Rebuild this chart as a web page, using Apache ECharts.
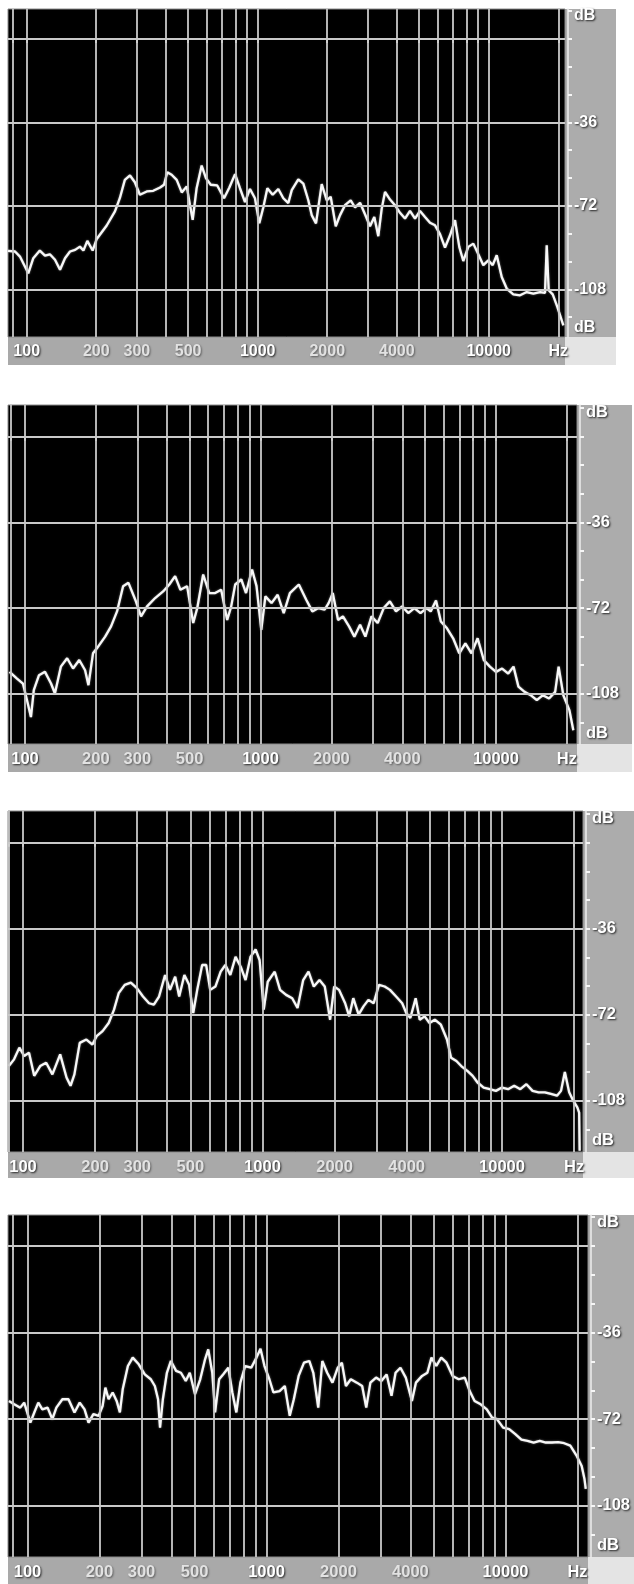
<!DOCTYPE html>
<html>
<head>
<meta charset="utf-8">
<title>Spectra</title>
<script src="https://cdn.jsdelivr.net/npm/echarts@6/dist/echarts.min.js"></script>
<style>
  html, body { margin: 0; padding: 0; background: #fff; }
  #chart { width: 634px; height: 1584px; }
</style>
</head>
<body>
<div id="chart"></div>
<script>
// Frequency (Hz) / level (dB) pairs for the four spectra, top to bottom.
const spectrumA = [
  [83, -91.4], [89, -91.7], [93.5, -93.9], [101.6, -101.1], [106.8, -94.6], [114, -91.3], [120, -93.5],
  [126, -92.9], [132.6, -95.3], [139.4, -99.6], [146.5, -94.6], [154, -91.7], [162, -91], [170, -89.6],
  [176, -91.3], [183, -87.1], [193, -91.3], [201, -86.3], [222, -80.5], [241, -74.4], [253, -68.7],
  [266, -60.8], [280, -58.9], [294, -61.8], [309, -67.2], [331, -65.8], [353, -65.5], [378, -64.1],
  [393, -62.9], [406, -57.5], [424, -58.6], [446, -60.8], [469, -66.2], [493, -63.6], [509, -71.6],
  [523, -78], [544, -64.4], [572, -54.6], [597, -60], [626, -62.9], [668, -63.2], [715, -68.7],
  [754, -64.1], [798, -58.3], [838, -64.4], [881, -70.4], [926, -64.7], [973, -68.7], [1016, -79.5],
  [1057, -72.7], [1101, -64.4], [1161, -67.2], [1228, -64.7], [1291, -68.7], [1357, -70.8], [1404, -65.2],
  [1499, -60.6], [1576, -62.4], [1656, -69.6], [1713, -76], [1788, -79.6], [1893, -62.6], [1989, -69.6],
  [2070, -68.1], [2177, -80.8], [2272, -76], [2387, -71.7], [2527, -69.6], [2638, -72.7], [2773, -70.7],
  [2914, -75.6], [3063, -80.8], [3197, -76.8], [3327, -85.1], [3442, -73.2], [3557, -66], [3739, -69.3],
  [3929, -71.7], [4130, -75], [4341, -77.5], [4563, -74.2], [4797, -77.5], [5042, -74.2], [5300, -76.8],
  [5570, -79.3], [5855, -80.4], [6154, -84.2], [6469, -90], [6800, -84.7], [7147, -78.2], [7458, -89.7],
  [7762, -95.8], [8159, -89.7], [8577, -88.3], [9016, -92.9], [9476, -97.6], [9961, -95.5], [10406, -97.6],
  [10830, -93.3], [11385, -102.7], [11965, -107.7], [12778, -110.2], [13663, -110.6], [14605, -109.2],
  [15603, -109.9], [16681, -109.2], [17526, -109.6], [17827, -89], [18184, -108.4], [18928, -110.2],
  [19815, -115.6], [21040, -123.6]
];

const spectrumB = [
  [86, -98.8], [92.5, -101.6], [98, -103.7], [102, -110.7], [106, -117.8], [109, -106.5], [114.7, -100.2],
  [121.6, -98.8], [129, -103.7], [134, -107.9], [142, -96.6], [151, -93.1], [160, -97.4], [170, -93.8],
  [180, -98.1], [186, -104.4], [194.5, -91], [202, -88.9], [219, -84], [232, -79.7], [246, -73.4],
  [261, -62.8], [275, -61.4], [294, -68.5], [311, -75.5], [330, -71.3], [357, -67.8], [386, -65],
  [410, -62.1], [434, -58.6], [457, -64.3], [488, -62.8], [518, -78.3], [539, -72], [571, -57.9],
  [606, -65.7], [642, -65.7], [681, -64.3], [722, -77], [751, -71.3], [781, -62.1], [829, -60],
  [868, -65.7], [921, -55.8], [962, -62.8], [1008, -81.2], [1049, -67.1], [1114, -69.9], [1183, -66.4],
  [1255, -74.1], [1333, -65.7], [1455, -62.1], [1564, -68.5], [1660, -73.4], [1763, -72], [1871, -72.7],
  [1947, -69.9], [2027, -65.7], [2135, -77], [2239, -75.5], [2377, -79.7], [2504, -84], [2648, -79],
  [2789, -84], [2961, -75.5], [3144, -78.3], [3337, -72], [3543, -69.2], [3762, -73.4], [3994, -71.3],
  [4240, -74.1], [4502, -72], [4780, -74.1], [5075, -72], [5281, -73.4], [5563, -68.8], [5834, -77.6],
  [6194, -80.5], [6577, -84.7], [6982, -91], [7413, -86.8], [7870, -91], [8356, -84.7], [8872, -93.8],
  [9419, -96.6], [10000, -98.8], [10617, -97.4], [11272, -99.5], [11870, -96.6], [12454, -105],
  [13222, -107.2], [14038, -108.6], [14904, -110.7], [15823, -108.6], [16799, -110], [17835, -107.2],
  [18450, -96.6], [19320, -108.6], [20512, -115], [21300, -123.3]
];

const spectrumC = [
  [87.3, -93.5], [91.8, -90.7], [96.6, -85.8], [101.2, -89.3], [106, -87.9], [111.4, -97.6], [118, -93.5],
  [125, -92.1], [132.7, -97], [143, -88.6], [152, -98.3], [158, -101.8], [164, -97], [172.6, -83.8],
  [184, -82.4], [195, -84.5], [203, -81], [215, -78.9], [228, -75.5], [240, -69.9], [251, -63],
  [266, -59.5], [282, -58.6], [299, -60.9], [317, -64.4], [336, -67.2], [352, -67.8], [370, -64.4],
  [392, -55.4], [411, -61.6], [432, -56.1], [449, -64.4], [472, -55.4], [494, -59.5], [514, -71.3],
  [534, -61.6], [560, -51.2], [582, -51.2], [605, -61.6], [636, -60.2], [669, -54], [700, -51.2],
  [734, -55.4], [772, -47.8], [811, -51.9], [850, -57.5], [891, -47.8], [936, -44.7], [973, -49.2],
  [1012, -69.9], [1052, -58.2], [1125, -54], [1184, -61.6], [1255, -63.7], [1331, -65.1], [1401, -69.2],
  [1479, -57.5], [1557, -54], [1638, -60.2], [1730, -57.5], [1820, -60.2], [1916, -74.1], [1992, -60.2],
  [2088, -61.6], [2214, -67.2], [2302, -72.7], [2394, -65.1], [2520, -72], [2641, -68.5], [2769, -65.8],
  [2913, -67.2], [3064, -59.5], [3237, -60.2], [3406, -61.6], [3614, -64.4], [3831, -67.2], [3984, -71.3],
  [4143, -73.4], [4361, -65.1], [4535, -74.1], [4753, -72.7], [4981, -75.5], [5242, -74.1], [5558, -76.2],
  [5893, -82.4], [6129, -90], [6451, -91.4], [6759, -93.5], [7167, -95.5], [7544, -97.6], [7907, -100.4],
  [8384, -102.5], [8892, -103.2], [9430, -103.9], [10000, -102.5], [10605, -103.2], [11247, -101.8],
  [11927, -103.2], [12648, -101.1], [13416, -103.9], [14227, -104.5], [15088, -104.5], [16000, -105.2],
  [16968, -105.9], [17640, -103.9], [18300, -96], [19077, -104.5], [19838, -108], [20630, -110.8],
  [21000, -113], [21100, -129]
];

const spectrumD = [
  [83.7, -64.4], [88, -65.8], [93.3, -67.2], [96.9, -65.1], [102.8, -73.4], [106.8, -69.2], [111, -65.1],
  [115.4, -67.9], [121.4, -67.2], [127.1, -72], [132.1, -67.2], [140, -63.7], [148.4, -63.7], [157.3, -69.2],
  [165.4, -65.1], [173.3, -67.9], [180.1, -73.4], [188.7, -69.9], [198.4, -70.6], [206.2, -66.5],
  [211.8, -58.9], [218.5, -63.7], [227.2, -60.9], [236.1, -64.4], [243.6, -69.2], [250.3, -59.6],
  [263.1, -49.9], [275.6, -46.4], [292.1, -49.2], [309.6, -53.4], [328.1, -55.4], [341.1, -58.2],
  [351.8, -63.7], [358.6, -75.5], [368.5, -63.7], [383.1, -52.7], [398.1, -47.8], [418.6, -51.9],
  [438.5, -52.7], [459.4, -56.1], [477.5, -52.7], [502.3, -61.6], [528.1, -55.4], [553.3, -47.1],
  [570.6, -43], [593.1, -52.7], [609.4, -69.2], [633.4, -55.4], [658.4, -53.4], [692.3, -50.6],
  [719.6, -60.9], [747.9, -69.2], [777.5, -56.8], [814.5, -49.9], [863.3, -50.6], [907.8, -46.4],
  [943.7, -42.7], [980.8, -49.9], [1028, -55.4], [1069, -60.9], [1134, -60.3], [1193, -58.2],
  [1251, -70.6], [1301, -63.7], [1363, -54], [1435, -48.5], [1510, -47.8], [1570, -52.7], [1646, -67.2],
  [1712, -47.8], [1794, -52.7], [1888, -56.8], [1987, -50.6], [2067, -48.5], [2149, -58.2], [2252, -55.4],
  [2388, -56.8], [2513, -58.2], [2614, -67.2], [2720, -56.8], [2873, -54.7], [3022, -56.1], [3182, -53.4],
  [3334, -62.3], [3467, -52.7], [3634, -50.6], [3825, -54.7], [4057, -64.4], [4218, -56.8], [4475, -54],
  [4710, -52.7], [4898, -46.4], [5133, -49.9], [5381, -46.4], [5662, -48.5], [6005, -54], [6368, -55.4],
  [6754, -54.7], [7080, -60.3], [7421, -64.4], [7870, -65.8], [8348, -67.9], [8785, -71.3], [9209, -72],
  [9768, -75.5], [10359, -76.1], [10987, -78.2], [11651, -80.5], [12359, -81], [13108, -81.7],
  [13902, -81], [14746, -81.7], [15638, -81.7], [16590, -81.5], [17591, -82], [18659, -83],
  [19789, -87], [20823, -91.5], [21403, -97], [21656, -101]
];

// Axis values
const freqLabels = [100, 200, 300, 500, 1000, 2000, 4000, 10000, 20000];   // 20000 carries the "Hz" unit
const brightFreqLabels = [100, 1000, 10000, 20000];
const freqRules = [87, 100, 200, 300, 400, 500, 600, 700, 800, 900, 1000,
                   2000, 3000, 4000, 5000, 6000, 7000, 8000, 9000, 10000, 20000];
const dbLabels = [10, -36, -72, -108, -124.5];                              // outer two carry the "dB" unit
const dbRules = [0, -36, -72, -108];
const dbTicks = [12, 0, -12, -24, -36, -48, -60, -72, -84, -96, -108, -120];

// Panel frames (pixels) and the visible axis ranges of each panel
const panels = [
  { data: spectrumA, left: 8, top: 9,    width: 557, height: 328, hz: [83, 21390],   db: [-128.6, 12.95], strip: 28, side: 51, font: 16 },
  { data: spectrumB, left: 8, top: 405,  width: 569, height: 339, hz: [84.7, 22080], db: [-129.1, 13.3],  strip: 28, side: 55, font: 16.5 },
  { data: spectrumC, left: 8, top: 811,  width: 575, height: 341, hz: [86.6, 21790], db: [-129.5, 13.3],  strip: 26, side: 51, font: 16.5 },
  { data: spectrumD, left: 8, top: 1215, width: 580, height: 342, hz: [82.9, 22130], db: [-129.3, 12.9],  strip: 27, side: 46, font: 16.5 }
];

const FONT = '"Liberation Sans", Arial, sans-serif';
const STRIP = '#a9a9a9';

const grids = [], xAxes = [], yAxes = [], series = [], graphics = [];

panels.forEach((p, i) => {
  grids.push({
    left: p.left, top: p.top, width: p.width, height: p.height,
    show: true, backgroundColor: '#000', borderColor: '#8a8a8a', borderWidth: 1
  });

  // grey label strips around the plot
  graphics.push(
    { type: 'rect', z: -5, shape: { x: p.left, y: p.top + p.height, width: p.width, height: p.strip }, style: { fill: STRIP } },
    { type: 'rect', z: -5, shape: { x: p.left + p.width, y: p.top, width: p.side, height: p.height }, style: { fill: '#acacac' } },
    { type: 'rect', z: -5, shape: { x: p.left + p.width, y: p.top + p.height, width: p.side, height: p.strip }, style: { fill: '#e4e4e4' } }
  );

  const labelText = {
    fontFamily: FONT, fontWeight: 'bold', fontSize: p.font,
    textShadowColor: '#262626', textShadowBlur: 2, textShadowOffsetX: 1, textShadowOffsetY: 1
  };

  xAxes.push({
    gridIndex: i, type: 'log', logBase: 10, min: p.hz[0], max: p.hz[1],
    axisLine: { show: false },
    splitLine: { show: false },
    axisTick: { show: true, customValues: freqRules, length: 4, inside: false,
                lineStyle: { color: '#f2f2f2', width: 2 } },
    axisLabel: {
      show: true, customValues: freqLabels, margin: 7, hideOverlap: false,
      formatter: v => {
        const n = Math.round(v);
        const txt = n >= 20000 ? 'Hz' : String(n);
        return brightFreqLabels.indexOf(n) >= 0 ? '{hi|' + txt + '}' : '{lo|' + txt + '}';
      },
      rich: {
        hi: Object.assign({ color: '#ffffff' }, labelText),
        lo: Object.assign({}, labelText, { color: '#e2e2e2', textShadowColor: '#5e5e5e' })
      }
    }
  });

  yAxes.push({
    gridIndex: i, type: 'value', position: 'right', offset: 3,
    min: p.db[0], max: p.db[1],
    splitLine: { show: false },
    axisLine: { show: true, onZero: false, lineStyle: { color: '#eeeeee', width: 1.5 } },
    axisTick: { show: true, customValues: dbTicks, length: 4, inside: false,
                lineStyle: { color: '#f6f6f6', width: 2 } },
    axisLabel: Object.assign({
      show: true, customValues: dbLabels, margin: 6, color: '#ffffff', hideOverlap: false,
      formatter: v => (v > 0 || v < -115) ? 'dB' : String(Math.round(v))
    }, labelText)
  });

  // frequency and level rules
  series.push({
    type: 'line', xAxisIndex: i, yAxisIndex: i, data: [], z: 1, silent: true,
    markLine: {
      silent: true, symbol: ['none', 'none'], animation: false,
      label: { show: false },
      lineStyle: { color: '#c9c9c9', width: 1.8, type: 'solid' },
      data: freqRules.map(v => ({ xAxis: v })).concat(dbRules.map(v => ({ yAxis: v })))
    }
  });

  // spectrum trace
  series.push({
    type: 'line', xAxisIndex: i, yAxisIndex: i, data: p.data, z: 3,
    showSymbol: false, smooth: false, clip: true, silent: true,
    lineStyle: { color: '#f8f8f8', width: 2.3, shadowColor: 'rgba(255,255,255,0.5)', shadowBlur: 2 }
  });
});

const chart = echarts.init(document.getElementById('chart'), null, { renderer: 'canvas', width: 634, height: 1584 });
chart.setOption({
  backgroundColor: '#ffffff',
  animation: false,
  grid: grids,
  xAxis: xAxes,
  yAxis: yAxes,
  series: series,
  graphic: { elements: graphics }
});
</script>
</body>
</html>
